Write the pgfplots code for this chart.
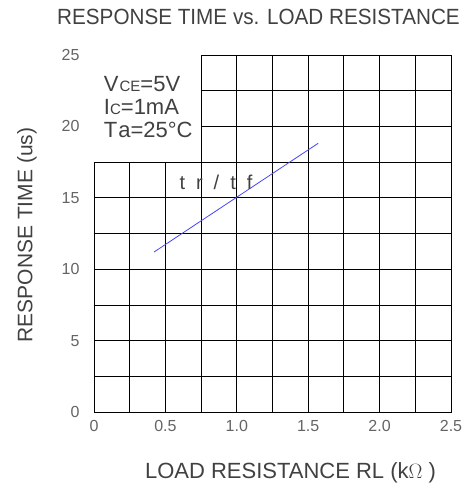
\documentclass[border=0pt]{standalone}
\usepackage{pgfplots}
\pgfplotsset{compat=1.18}
\usepackage{fontspec}
\setmainfont{Liberation Sans}
\usepackage{graphicx}
\definecolor{txt}{RGB}{65,65,65}
\definecolor{tickc}{RGB}{100,100,100}
\definecolor{lineblue}{RGB}{70,70,255}
\begin{document}
\begin{tikzpicture}
\begin{axis}[
  at={(0pt,0pt)}, anchor=south west,
  scale only axis, width=357pt, height=357pt,
  xmin=0, xmax=2.5, ymin=0, ymax=25,
  xtick={0,0.5,1,1.5,2,2.5}, xticklabels={0,0.5,1.0,1.5,2.0,2.5},
  minor xtick={0.25,0.75,1.25,1.75,2.25},
  ytick={0,5,10,15,20,25}, yticklabels={0,5,10,15,20,25},
  minor ytick={2.5,7.5,12.5,17.5,22.5},
  grid=both,
  major grid style={black, line width=0.8pt},
  minor grid style={black, line width=0.8pt},
  major tick length=0pt, minor tick length=0pt,
  axis line style={black, line width=0.8pt},
  ticklabel style={font=\fontsize{16}{16}\selectfont, text=tickc},
  xticklabel style={yshift=-5pt},
  yticklabel style={xshift=-11pt},
  /pgf/number format/assume math mode=true,
]
\fill[white] (axis cs:0,17.5) rectangle (axis cs:0.75,25);
\draw[black, line width=0.8pt] (axis cs:0,17.5) -| (axis cs:0.75,25);
\addplot[lineblue, line width=0.8pt] coordinates {(0.42,11.2) (1.57,18.82)};
\node[anchor=west, text=txt, font=\fontsize{22}{22}\selectfont] at (axis cs:0.045,22.97) {V\hspace{1pt}{\fontsize{15}{15}\selectfont CE}=5V};
\node[anchor=west, text=txt, font=\fontsize{22}{22}\selectfont] at (axis cs:0.045,21.36) {I{\fontsize{15}{15}\selectfont C}=1mA};
\node[anchor=west, text=txt, font=\fontsize{22}{22}\selectfont] at (axis cs:0.045,19.75) {T\hspace{1pt}a=25°C};
\node[text=txt, font=\fontsize{20}{20}\selectfont] at (axis cs:0.854,16.1) {t\hspace{11pt}r\hspace{11pt}/\hspace{11pt}t\hspace{11pt}f};
\end{axis}
\node[text=txt, font=\fontsize{22}{22}\selectfont] at (164.5pt,395pt) {\scalebox{0.94}[1]{RESPONSE TIME vs. LOAD RESISTANCE}};
\node[text=txt, font=\fontsize{21}{21}\selectfont, rotate=90] at (-67pt,177pt) {RESPONSE TIME (us)};
\node[text=txt, font=\fontsize{22}{22}\selectfont] at (196.5pt,-61pt) {LOAD RESISTANCE RL (k$\Omega$ )};
\pgfresetboundingbox
\path (-94pt,-79pt) rectangle (378pt,412pt);
\end{tikzpicture}
\end{document}
